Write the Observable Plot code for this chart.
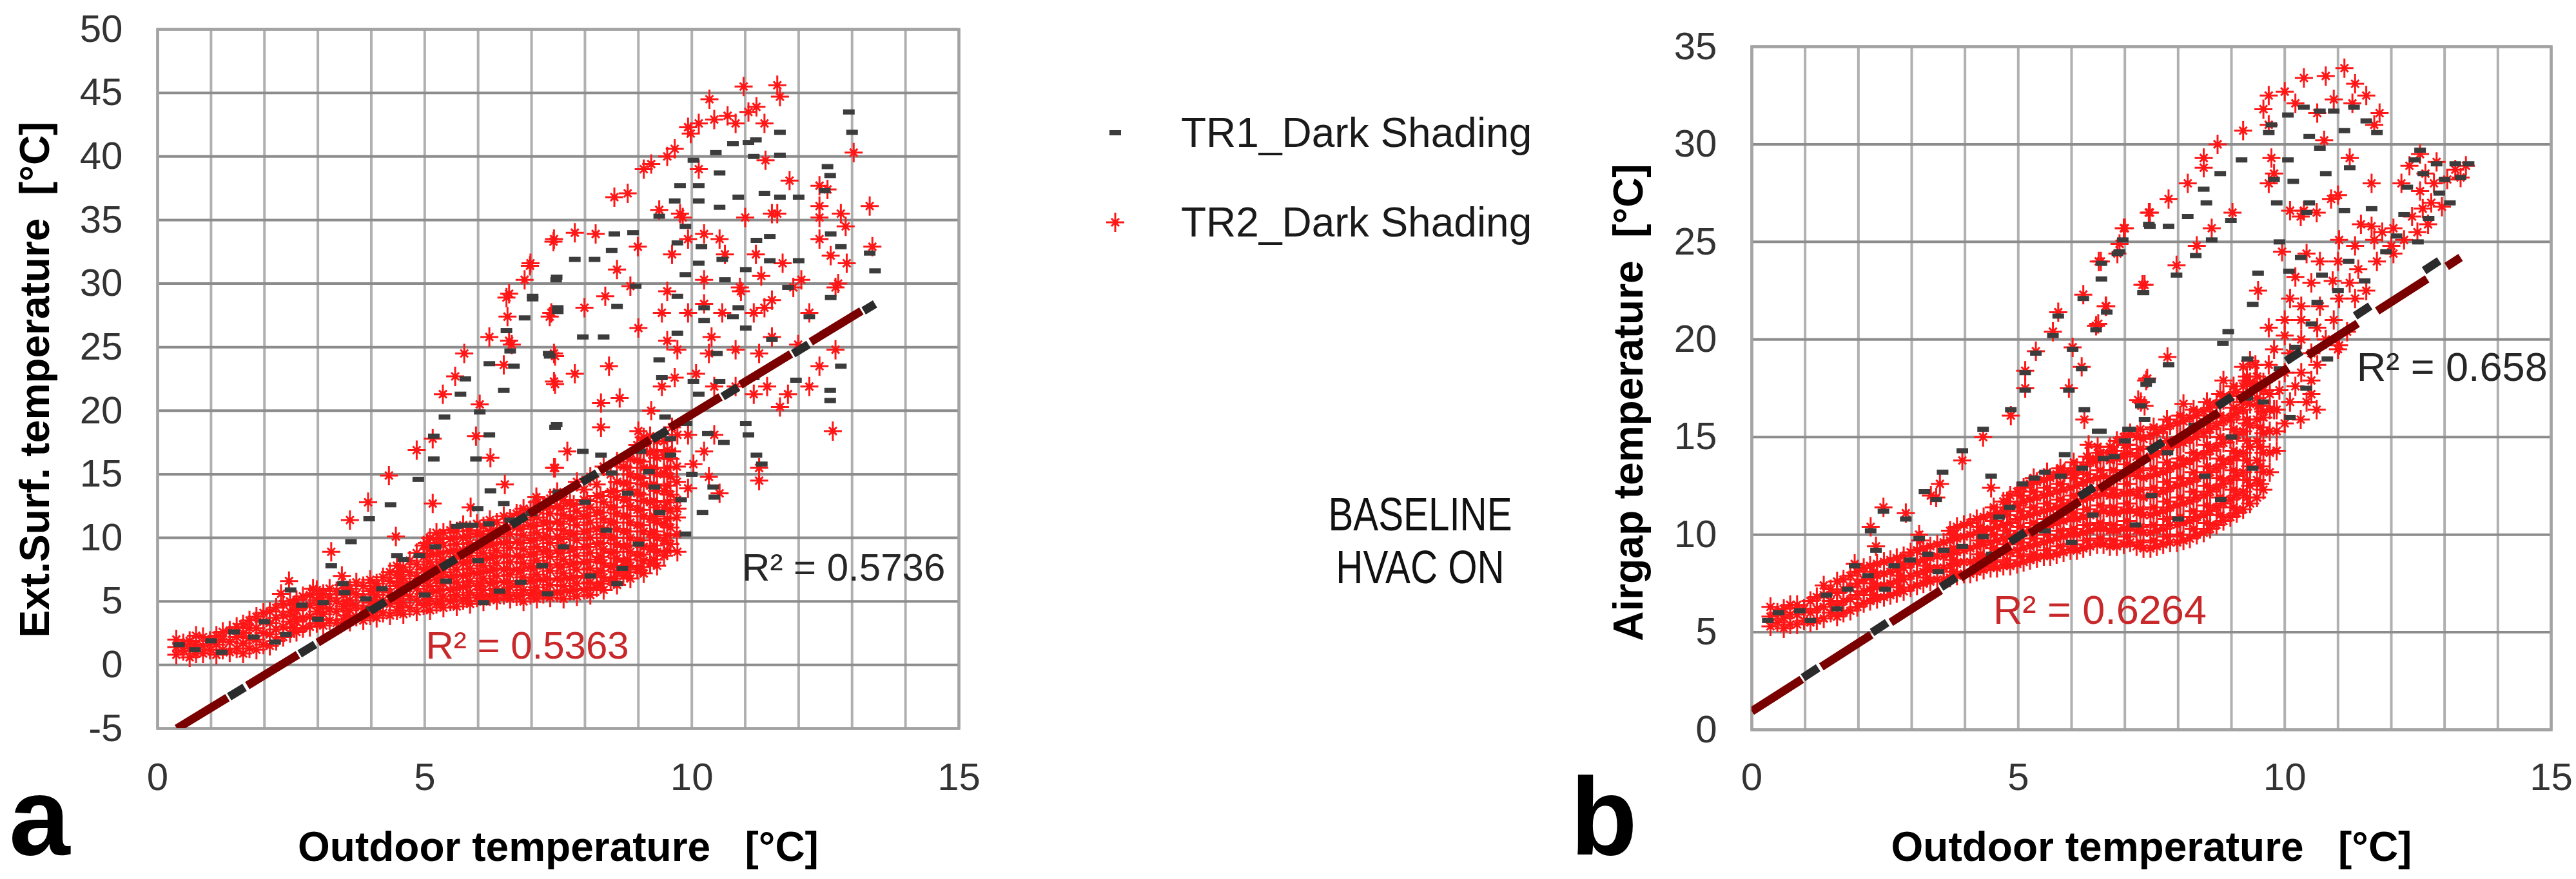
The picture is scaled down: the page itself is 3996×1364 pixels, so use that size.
<!DOCTYPE html>
<html><head><meta charset="utf-8">
<script src="https://cdn.jsdelivr.net/npm/d3@7"></script>
<script src="https://cdn.jsdelivr.net/npm/@observablehq/plot@0.6"></script>
<style>
html,body{margin:0;padding:0;background:#fff;}
#page{position:relative;width:3996px;height:1364px;overflow:hidden;background:#fff;}
#page > svg{position:absolute;max-width:none;}
</style></head><body><div id="page"></div>
<script>
// ---------- ticks / labels ----------
const xTicks = [0, 5, 10, 15];
const xGrid = [0,1,2,3,4,5,6,7,8,9,10,11,12,13,14,15];
const yTicksA = [-5,0,5,10,15,20,25,30,35,40,45,50];
const yTicksB = [0,5,10,15,20,25,30,35];
const seriesNames = ["TR1_Dark Shading", "TR2_Dark Shading"];
const xTitle = "Outdoor temperature   [°C]";
const yTitleA = "Ext.Surf. temperature  [°C]";
const yTitleB = "Airgap temperature  [°C]";
const noteLines = ["BASELINE", "HVAC ON"];
const panelLetters = ["a", "b"];

// ---------- chart a : TR1 (black) ----------
const a_tr1_sparse = [
[7.46,30.3],[7.02,28.8],[6.87,27.3],[7.49,27.8],[6.53,26.3],[6.60,24.7],[6.21,23.7],[6.67,23.5],[7.34,24.3],[5.76,22.5],[6.48,21.6],[5.67,21.3],[6.03,19.9],[5.37,19.5],[7.44,18.7],[5.17,18.0],[6.21,18.1],[5.17,16.2],[5.96,16.2],[4.88,14.6],[4.36,12.6],[3.96,11.5],[6.23,13.7],[6.48,12.7],[3.62,9.7],[4.48,8.6],[3.25,7.8],[3.47,6.4],[2.49,5.9],[5.99,12.3],[5.69,11.0],
[12.94,43.5],[13.0,41.9],[11.65,41.9],[11.06,41.1],[11.2,41.3],[11.65,40.1],[10.45,40.3],[10.77,41.0],[11.16,40.0],[10.03,39.7],[10.52,38.7],[12.54,39.2],[12.59,38.5],[9.78,37.7],[10.13,37.7],[12.49,37.3],[9.68,36.5],[10.13,36.5],[10.52,36.0],[10.87,36.8],[11.36,37.1],[11.65,36.8],[12.0,36.8],[9.39,35.3],[9.88,34.5],[8.55,33.9],[8.9,34.0],[9.73,33.2],[10.18,32.9],[11.21,33.4],[11.46,33.7],[12.6,33.9],[12.79,32.9],[13.33,32.4],[7.81,31.9],[8.18,31.9],[8.5,32.6],[10.57,31.9],[11.01,31.1],[11.46,31.8],[12.0,31.8],[13.43,31.0],[7.47,30.5],[8.95,29.8],[9.88,30.7],[10.13,31.6],[7.02,29.0],[8.6,28.2],[7.49,28.1],[9.73,29.0],[10.23,28.1],[10.62,30.3],[10.87,28.1],[11.8,29.7],[12.6,28.9],[12.2,27.4],[10.77,27.4],[10.23,27.1],[11.01,26.5],[9.73,26.1],[7.96,25.8],[8.35,25.8],[7.32,24.5],[9.39,24.0],[10.47,24.5],[11.5,25.6],[12.79,23.5],[9.44,22.6],[10.03,22.3],[10.52,22.3],[10.13,21.3],[11.95,22.4],[12.59,21.6],[12.59,20.8],[11.16,22.6],[7.47,18.9],[7.96,16.8],[8.3,16.5],[9.04,16.8],[11.01,19.0],[11.06,18.1],[11.21,16.5],[11.31,15.8],[9.88,10.3],[10.42,13.2],[8.7,7.6]
];
const a_tr1_cloud = [
[0.4,1.6],[0.7,1.2],[1.0,1.9],[1.43,2.6],[1.8,2.2],[2.0,3.4],[2.4,2.4],[2.7,4.7],[3.1,4.9],[3.5,5.7],[3.9,5.2],[4.2,6.0],[4.6,8.3],[4.9,8.6],[5.2,9.3],[5.6,10.9],[5.9,11.0],[6.2,11.1],[6.6,11.4],[7.0,11.9],[6.8,6.5],[7.2,7.8],[5.4,6.6],[6.0,8.2],[6.4,5.8],[7.6,9.3],[8.1,7.0],[8.4,10.6],[8.0,12.8],[8.8,13.5],[9.2,15.2],[9.4,12.0],[7.5,13.6],[8.5,15.1],[5.0,5.5],[4.0,4.4],[3.0,3.6],[2.2,1.8],[1.2,1.0],[9.6,17.8],[9.5,19.5],[9.9,19.0],[10.3,18.2],[10.6,17.5],[9.6,16.5],[10.0,15.0],[10.4,14.0],[9.8,13.0],[10.2,12.0],[9.3,14.0],[9.0,9.5],[8.6,6.4],[7.3,5.6],[6.1,4.9]
];

// ---------- chart a : TR2 (red) ----------
const a_tr2_sparse = [
[7.41,33.3],[6.97,31.4],[6.87,30.3],[6.53,28.9],[6.55,27.4],[6.21,25.8],[5.74,24.5],[6.63,25.2],[6.48,23.6],[5.57,22.7],[7.34,27.4],[7.44,24.3],[7.44,22.1],[5.34,21.3],[6.03,20.5],[5.96,18.0],[5.15,17.8],[4.85,16.9],[6.23,16.3],[7.44,15.5],[4.33,14.9],[6.50,14.2],[3.94,12.8],[5.15,12.7],[5.86,12.4],[3.60,11.4],[7.09,13.2],[4.46,10.1],[3.25,8.9],[3.45,7.0],[2.46,6.6],[2.91,6.0],[2.31,5.6],
[10.97,45.5],[11.6,45.6],[11.65,44.7],[10.33,44.5],[10.67,43.2],[11.06,43.5],[10.13,42.6],[11.36,42.6],[9.68,40.6],[9.98,41.8],[9.24,39.4],[11.38,39.7],[13.03,40.3],[8.55,36.8],[8.8,37.1],[11.83,38.1],[12.54,37.4],[13.33,36.1],[9.39,35.8],[9.78,35.5],[11.0,35.2],[11.5,35.5],[7.42,33.5],[7.81,34.0],[8.2,33.9],[8.99,32.9],[12.39,33.5],[12.88,34.5],[13.38,32.9],[6.98,31.6],[8.6,31.1],[10.62,32.3],[6.58,29.2],[7.37,27.7],[7.99,28.1],[8.38,29.0],[8.85,29.8],[9.54,29.4],[10.23,28.4],[10.92,29.4],[11.5,28.7],[12.05,30.3],[12.6,32.2],[12.74,30.0],[11.16,27.7],[12.2,27.7],[9.0,26.5],[6.58,25.5],[7.42,24.5],[8.45,23.5],[7.81,22.9],[7.42,22.3],[9.73,24.8],[10.37,25.8],[11.5,25.8],[12.69,24.8],[12.2,21.9],[8.3,20.6],[8.65,21.0],[9.24,20.0],[11.16,21.3],[11.65,20.3],[7.67,16.8],[8.3,18.7],[9.0,18.4],[7.42,15.5],[9.73,18.1],[12.64,18.4],[11.26,15.5],[11.26,14.5],[9.73,8.9],[10.23,16.8],
[9.93,42.3],[10.42,42.9],[10.82,42.6],[11.21,43.9],[9.54,40.0],[9.1,39.0],[10.13,39.0],[12.39,37.7],[12.39,36.1],[12.79,35.5],
[9.83,35.2],[9.93,33.5],[10.23,33.9],[10.52,33.5],[11.6,35.5],[12.39,35.2],[12.9,31.6],[11.2,32.3],[11.7,31.6],[11.3,30.6],[10.9,29.7],[10.23,30.3],[9.63,32.3],[9.44,27.7],[9.93,27.7],[10.57,27.7],[11.36,28.1],[11.9,29.7],[12.69,29.7],[9.54,25.5],[10.32,24.5],[10.82,24.8],[11.26,24.5],[11.99,25.2],[12.39,23.5],[9.44,21.9],[9.68,22.6],[10.08,22.9],[10.42,21.9],[10.82,21.9],[11.41,21.9],[11.8,21.3],[9.63,18.7],[9.93,18.1],[10.42,18.1],[9.63,16.8],[10.03,15.8],[10.32,14.8],[10.52,13.5],[9.93,13.9],[9.73,12.3]
];
// dense cloud, read column by column: [outdoor T, [surface T values]]
const a_tr2_cloud = [
[0.35,[0.8,1.4,2.0]],[0.6,[0.6,1.3,1.9]],[0.85,[0.9,1.5,2.2]],[1.1,[0.8,1.6,2.3]],[1.35,[1.0,1.8,2.7]],
[1.6,[0.9,1.7,2.5,3.2]],[1.85,[1.2,2.0,2.9,3.8]],[2.1,[1.5,2.4,3.3,4.2]],[2.35,[2.2,3.0,3.9,4.8]],[2.6,[2.6,3.4,4.3,5.1]],
[2.85,[3.0,3.8,4.7,5.5]],[3.1,[3.1,4.0,4.8,5.6]],[3.35,[3.3,4.2,5.0,5.8]],[3.6,[3.4,4.3,5.1,6.0]],[3.85,[3.5,4.4,5.3,6.2]],
[4.1,[3.7,4.6,5.5,6.4]],[4.35,[3.9,4.8,5.7,6.6,7.3]],[4.6,[4.0,4.9,5.8,6.8,7.7]],[4.85,[4.2,5.1,6.0,7.0,7.9,8.8]],
[5.1,[4.3,5.2,6.2,7.1,8.1,9.1,10.0]],[5.35,[4.5,5.4,6.4,7.3,8.3,9.4,10.4]],[5.6,[4.6,5.5,6.5,7.5,8.5,9.5,10.5]],
[5.85,[4.8,5.7,6.6,7.6,8.6,9.6,10.6]],[6.1,[5.0,5.9,6.8,7.8,8.8,9.8,10.9]],[6.35,[5.1,6.0,7.0,8.0,9.0,10.1,11.2]],
[6.6,[5.2,6.1,7.1,8.1,9.2,10.3,11.5]],[6.85,[5.0,5.9,6.9,8.0,9.1,10.2,11.4,12.3]],[7.1,[5.2,6.1,7.1,8.2,9.3,10.4,11.6,12.8]],
[7.35,[5.3,6.3,7.4,8.5,9.6,10.7,11.9,13.1]],[7.6,[5.2,6.2,7.2,8.3,9.4,10.6,11.8,13.0]],[7.85,[5.4,6.4,7.5,8.6,9.8,11.0,12.1,14.4]],
[8.1,[5.5,6.5,7.6,8.8,10.0,11.2,12.4,14.8]],[8.35,[5.9,6.9,8.0,9.1,10.3,11.5,12.8,15.6]],[8.6,[6.3,7.3,8.4,9.5,10.7,11.9,13.2,14.4,16.0]],
[8.85,[6.8,7.8,8.9,10.0,11.2,12.5,13.8,15.0,16.2]],[9.1,[7.2,8.2,9.3,10.5,11.7,12.9,14.2,15.5,16.8,17.9]],
[9.35,[7.8,8.9,10.0,11.2,12.4,13.7,15.0,16.3,17.6]],[9.6,[9.5,10.8,12.1,13.4,14.8,16.2]]
];
// second pass over the same cloud, read between the first columns
const a_tr2_cloud2 = [
[0.48,[1.1,1.7]],[0.72,[0.9,1.6,2.3]],[0.98,[1.2,1.9]],[1.22,[1.2,2.0,2.6]],[1.48,[1.3,2.2,3.0]],[1.72,[1.3,2.1,2.9,3.5]],
[1.98,[1.6,2.5,3.4,4.1]],[2.22,[1.9,2.8,3.7,4.5]],[2.48,[2.5,3.4,4.2,5.0]],[2.72,[2.9,3.7,4.6,5.4]],[2.98,[3.3,4.2,5.1,5.9]],
[3.22,[3.5,4.4,5.3,6.0]],[3.48,[3.6,4.6,5.5,6.3]],[3.72,[3.8,4.7,5.6,6.5]],[3.98,[3.9,4.9,5.8,6.7]],[4.22,[4.1,5.1,6.0,6.9]],
[4.48,[4.3,5.2,6.2,7.1,7.8]],[4.72,[4.5,5.4,6.4,7.3,8.2]],[4.98,[4.7,5.6,6.6,7.5,8.5,9.4]],[5.22,[4.8,5.8,6.7,7.7,8.7,9.6,10.4]],
[5.48,[5.0,5.9,6.9,7.9,8.9,9.9,10.6]],[5.72,[5.1,6.1,7.0,8.0,9.0,10.0,11.0]],[5.98,[5.3,6.2,7.2,8.2,9.2,10.3,11.1]],
[6.22,[5.4,6.4,7.4,8.4,9.4,10.5,11.4]],[6.48,[5.5,6.5,7.5,8.6,9.6,10.7,11.7]],[6.72,[5.4,6.4,7.5,8.6,9.7,10.8,11.9]],
[6.98,[5.5,6.6,7.7,8.7,9.8,11.0,12.2]],[7.22,[5.6,6.7,7.8,8.9,10.0,11.2,12.4]],[7.48,[5.7,6.8,7.9,9.0,10.1,11.3,12.5,13.6]],
[7.72,[5.8,6.8,7.9,9.1,10.3,11.5,12.7]],[7.98,[5.9,7.0,8.1,9.3,10.5,11.7,13.0,13.8]],[8.22,[6.1,7.2,8.3,9.5,10.7,12.0,13.3,14.2]],
[8.48,[6.6,7.7,8.8,10.0,11.2,12.4,13.6,15.0]],[8.72,[7.0,8.1,9.3,10.5,11.7,13.0,14.3,15.6]],[8.98,[7.5,8.6,9.8,11.0,12.2,13.5,14.8,16.1,17.3]],
[9.22,[8.0,9.1,10.3,11.5,12.8,14.1,15.4,16.7,18.0]],[9.48,[8.6,9.8,11.1,12.4,13.7,15.1,16.5,17.6]],[9.72,[10.3,11.6,13.0,14.4,15.6]]
];
// third pass over the densest core
const a_tr2_cloud3 = [
[2.56,[2.9,3.8,4.7]],[3.04,[3.6,4.5,5.3]],[3.54,[3.9,4.8,5.7]],[4.04,[4.2,5.1,6.0]],[4.54,[4.6,5.5,6.5,7.4]],
[5.04,[4.8,5.7,6.7,7.6,8.6,9.6]],[5.29,[5.0,5.9,6.9,7.8,8.8,9.9]],[5.54,[5.1,6.0,7.0,8.0,9.0,10.0]],
[5.79,[5.3,6.2,7.1,8.1,9.1,10.1]],[6.04,[5.5,6.4,7.3,8.3,9.3,10.3]],[6.29,[5.6,6.5,7.5,8.5,9.5,10.6]],
[6.54,[5.7,6.6,7.6,8.6,9.7,10.8]],[6.79,[5.5,6.4,7.4,8.5,9.6,10.7,11.8]],[7.04,[5.7,6.6,7.6,8.7,9.8,10.9,12.0]],
[7.29,[5.8,6.8,7.9,9.0,10.1,11.2,12.4]],[7.54,[5.7,6.7,7.7,8.8,9.9,11.1,12.3]],[7.79,[5.9,6.9,8.0,9.1,10.3,11.5,12.6]],
[8.04,[6.0,7.0,8.1,9.3,10.5,11.7,12.9]],[8.29,[6.4,7.4,8.5,9.6,10.8,12.0,13.3]],[8.54,[6.8,7.8,8.9,10.0,11.2,12.4,13.7]],
[8.79,[7.3,8.3,9.4,10.5,11.7,13.0,14.3,15.5]],[9.04,[7.7,8.7,9.8,11.0,12.2,13.4,14.7,16.0,17.2]],
[9.29,[8.3,9.4,10.5,11.7,12.9,14.2,15.5,16.8]],[9.54,[9.0,10.2,11.5,12.8,14.1,15.5,16.9]]
];

// ---------- chart b : TR1 (black) ----------
const b_tr1_sparse = [
[7.45,25.9],[6.96,25.1],[6.86,24.4],[6.56,23.9],[6.56,23.1],[7.35,22.4],[6.22,22.1],[6.66,21.4],[5.75,21.2],[6.46,20.5],[5.65,20.2],[6.02,19.5],[5.33,19.3],[6.19,18.5],[5.13,18.3],[5.13,17.4],[5.95,17.4],[7.4,17.7],[4.86,16.4],[6.24,16.4],[7.3,16.6],[4.34,15.4],[6.49,15.3],[7.1,15.4],[3.95,14.3],[3.58,13.2],[3.24,12.2],[3.46,11.8],[4.49,13.0],[5.87,14.1],[6.8,14.0],[2.47,11.2],[2.89,10.8],[2.23,10.2],[3.14,9.8],[2.33,9.2],[1.93,8.4],
[10.06,31.5],[9.75,31.0],[9.70,30.6],[10.36,31.9],[10.66,31.7],[10.92,31.7],[11.3,31.9],[11.53,31.2],[11.73,30.6],[11.12,30.7],[10.46,30.4],[10.06,29.2],[9.19,29.2],[10.66,29.8],[10.77,28.5],[11.22,28.8],[9.8,28.2],[10.16,28.1],[9.85,27.0],[8.48,27.7],[8.79,28.5],[8.53,27.0],[8.18,26.3],[7.82,25.8],[7.47,25.8],[8.99,26.1],[8.63,25.1],[8.33,24.3],[7.97,23.3],[7.34,22.4],[6.9,24.5],[11.63,26.7],[11.12,26.6],[10.46,27.0],[10.41,26.5],[12.24,26.4],[12.54,29.7],[12.44,29.2],[12.85,29.0],[13.2,29.0],[13.0,28.2],[9.9,25.0],[9.5,23.4],[9.4,21.8],[10.08,23.5],[10.61,21.9],[8.94,20.4],[8.84,19.8],[7.82,18.7],[7.47,17.9],[7.37,15.9],[7.06,15.4],[6.55,15.3]
];
const b_tr1_cloud = [
[0.3,5.6],[0.5,6.0],[0.9,6.1],[1.1,5.6],[1.4,6.9],[1.6,6.2],[1.8,7.2],[2.18,7.9],[2.5,7.2],[2.67,8.4],[2.97,8.7],[3.3,9.0],[3.5,8.1],[3.6,9.2],[3.95,9.4],[4.34,9.9],[4.5,9.0],[4.64,10.9],[4.84,11.4],[5.08,12.6],[5.3,12.9],[5.5,13.2],[5.5,10.2],[5.8,13.0],[6.0,9.6],[6.2,13.4],[6.4,11.0],[6.6,13.9],[7.0,14.8],[7.2,10.5],[7.5,12.0],[7.8,14.2],[8.0,10.8],[8.3,15.6],[8.5,13.0],[8.8,11.8],[9.0,15.0],[9.3,17.0],[9.4,13.4],
[10.3,24.2],[10.7,23.3],[11.0,22.5],[10.5,20.8],[10.2,19.6],[10.8,19.0],[9.9,18.5],[10.4,17.5],[9.6,16.8],[10.1,16.0],[11.2,24.0],[11.5,23.0],[11.9,24.5],[9.3,19.0],[12.6,28.5],[12.9,27.5],[13.3,28.3],[13.45,29.0],[12.3,27.8],[12.7,26.2],[12.1,25.3],[12.5,25.0],[13.1,27.0]
];

// ---------- chart b : TR2 (red) ----------
const b_tr2_sparse = [
[7.45,26.5],[6.98,25.7],[6.86,24.4],[6.51,24.0],[7.33,22.8],[6.22,22.3],[6.64,21.7],[5.75,21.4],[6.46,20.7],[5.65,20.4],[6.02,19.6],[5.33,19.4],[6.19,18.6],[5.13,18.4],[5.13,17.5],[5.95,17.5],[7.4,17.9],[4.86,16.1],[6.24,15.9],[7.3,16.8],[4.34,15.0],[6.49,14.5],[3.95,13.8],[3.53,12.6],[3.46,11.9],[4.49,12.4],[5.87,13.2],[6.8,14.1],[2.47,11.4],[2.89,11.1],[2.23,10.4],[3.14,10.0],[2.33,9.4],[1.93,8.5],
[7.25,16.9],[6.32,14.6],[7.0,14.6],[6.07,13.2],[6.46,13.9],[5.72,13.1],[3.36,12.0],[3.16,9.7],
[11.12,33.9],[10.36,33.4],[10.77,33.5],[11.32,33.1],[9.70,32.5],[10.0,32.7],[11.53,32.5],[11.78,31.6],[11.68,31.0],[9.6,31.8],[10.2,32.1],[10.61,31.6],[10.92,32.3],[11.27,32.1],[9.22,30.7],[9.70,31.0],[10.74,30.2],[8.74,30.0],[8.48,29.3],[8.48,28.8],[9.75,29.3],[9.8,28.5],[9.7,28.0],[11.22,29.3],[8.18,28.0],[7.82,27.2],[7.47,26.5],[7.0,25.7],[6.9,24.9],[6.55,24.0],[6.65,21.7],[6.5,20.8],[9.02,26.5],[8.63,25.7],[8.35,24.8],[7.97,23.8],[7.37,22.8],[10.36,26.6],[11.0,27.4],[11.63,28.0],[11.63,25.8],[9.95,24.5],[9.5,22.5],[7.8,19.1],[7.42,18.0],[7.37,16.6],[11.0,19.5],
[12.54,29.5],[12.85,29.1],[13.2,28.7],[13.4,28.9],[12.34,28.9],[12.64,28.5],[12.8,28.0],[13.05,28.2],[13.3,28.3],[12.19,28.0],[12.54,27.6],[12.75,27.0],[12.95,26.8],[12.39,26.3],[12.59,26.7],[12.04,25.7],[11.83,25.5],[12.49,25.5],[12.69,25.9],[12.24,25.1],
[10.1,26.6],[10.3,26.3],[10.6,26.5],[10.87,27.2],[11.43,25.9],[11.02,25.1],[11.32,24.8],[11.68,25.1],[12.0,24.8],[10.41,24.4],[10.66,24.0],[11.0,24.0],[11.38,23.6],[11.73,24.0],[12.04,24.4],[10.2,23.2],[10.5,22.9],[10.9,23.0],[11.22,22.9],[11.53,22.5],[10.1,22.1],[10.31,21.7],[10.66,21.7],[11.02,22.1],[11.32,22.1],[10.0,21.0],[10.31,21.0],[10.61,20.6],[10.92,21.0],[11.17,20.4],[9.7,20.6],[10.0,20.2],[10.31,20.0],[10.77,20.0],[11.02,19.7],[9.8,19.5],[10.1,19.3],[10.5,19.3],[9.45,18.7],[9.7,18.7],[10.0,18.3],[10.31,18.3],[10.61,18.7],[9.29,17.9],[9.6,17.8],[9.9,17.4],[10.2,17.6],[10.5,17.9],[9.19,16.8],[9.5,16.6],[9.8,16.4],[10.1,16.8],[10.41,16.8],[8.99,15.9],[9.29,15.7],[9.6,16.0],[10.0,15.7],[10.3,15.9],[10.5,17.2],[10.6,16.4]
];
const b_tr2_cloud = [
[0.35,[5.3,5.8,6.3]],[0.6,[5.2,5.7,6.2]],[0.85,[5.4,5.9,6.4]],[1.1,[5.5,6.0,6.6]],
[1.35,[5.7,6.3,6.9,7.4]],[1.6,[5.8,6.4,7.0,7.6]],[1.85,[6.1,6.7,7.3,7.9]],[2.1,[6.5,7.1,7.7,8.3]],
[2.35,[6.7,7.3,7.9,8.5]],[2.6,[6.9,7.5,8.1,8.7]],[2.85,[7.1,7.7,8.3,8.9]],[3.1,[7.4,8.0,8.6,9.2]],
[3.35,[7.6,8.2,8.8,9.4]],[3.6,[7.7,8.3,8.9,9.6]],[3.85,[7.9,8.5,9.1,9.8,10.4]],[4.1,[8.0,8.6,9.3,10.0,10.6]],
[4.35,[8.2,8.8,9.5,10.2,10.9]],[4.6,[8.3,9.0,9.7,10.4,11.1]],[4.85,[8.4,9.1,9.9,10.6,11.4,12.0]],
[5.1,[8.6,9.3,10.1,10.9,11.7,12.4]],[5.35,[8.8,9.5,10.3,11.1,11.9,12.7]],[5.6,[8.9,9.7,10.5,11.3,12.1,12.9]],
[5.85,[9.1,9.9,10.7,11.5,12.3,13.1]],[6.1,[9.2,10.0,10.8,11.7,12.5,13.4]],[6.35,[9.4,10.2,11.0,11.9,12.8,13.7]],
[6.6,[9.5,10.3,11.2,12.1,13.0,13.9]],[6.85,[9.4,10.2,11.1,12.0,12.9,13.9,14.8]],[7.1,[9.6,10.4,11.3,12.2,13.2,14.2,15.2]],
[7.35,[9.3,10.1,11.0,11.9,12.9,13.9,14.9]],[7.6,[9.4,10.2,11.1,12.1,13.1,14.1,15.2]],[7.85,[9.6,10.5,11.4,12.4,13.4,14.5,15.6]],
[8.1,[9.7,10.6,11.6,12.6,13.6,14.7,15.8,16.7]],[8.35,[10.0,10.9,11.9,12.9,13.9,15.0,16.1]],[8.6,[10.3,11.2,12.2,13.2,14.3,15.4,16.5]],
[8.85,[10.7,11.6,12.6,13.6,14.7,15.8,16.9,17.9]],[9.1,[11.1,12.0,13.0,14.0,15.1,16.2,17.3]],
[9.35,[11.6,12.5,13.5,14.5,15.6,16.7,17.8,18.9]],[9.6,[12.3,13.2,14.2,15.2,16.3,17.4]],[9.85,[14.3,15.3,16.4]]
];
const b_tr2_cloud2 = [
[0.48,[5.5,6.0]],[0.72,[5.4,5.9,6.4]],[0.98,[5.6,6.2]],[1.22,[5.6,6.2,6.8]],[1.48,[6.0,6.6,7.2]],[1.72,[6.0,6.6,7.2,7.7]],
[1.98,[6.3,6.9,7.5,8.1]],[2.22,[6.6,7.2,7.8,8.4]],[2.48,[6.8,7.4,8.0,8.6]],[2.72,[7.0,7.6,8.2,8.8]],[2.98,[7.3,7.9,8.5,9.1]],
[3.22,[7.5,8.1,8.7,9.3]],[3.48,[7.7,8.3,8.9,9.5]],[3.72,[7.8,8.4,9.0,9.7,10.2]],[3.98,[8.0,8.6,9.2,9.9,10.5]],
[4.22,[8.1,8.7,9.4,10.1,10.8]],[4.48,[8.3,8.9,9.6,10.3,11.0]],[4.72,[8.4,9.1,9.8,10.5,11.2,11.7]],[4.98,[8.5,9.2,10.0,10.8,11.5,12.2]],
[5.22,[8.7,9.4,10.2,11.0,11.8,12.6]],[5.48,[8.9,9.6,10.4,11.2,12.0,12.8]],[5.72,[9.0,9.8,10.6,11.4,12.2,13.0]],
[5.98,[9.2,10.0,10.8,11.6,12.4,13.2]],[6.22,[9.3,10.1,10.9,11.8,12.7,13.5]],[6.48,[9.5,10.3,11.1,12.0,12.9,13.8]],
[6.72,[9.4,10.2,11.1,12.0,12.9,13.8,14.5]],[6.98,[9.5,10.3,11.2,12.1,13.0,14.0,15.0]],[7.22,[9.4,10.2,11.1,12.0,13.0,14.0,15.0]],
[7.48,[9.3,10.1,11.0,12.0,13.0,14.0,15.1]],[7.72,[9.5,10.3,11.2,12.2,13.2,14.3,15.4]],[7.98,[9.6,10.5,11.5,12.5,13.5,14.6,15.7]],
[8.22,[9.8,10.7,11.7,12.7,13.8,14.9,16.0]],[8.48,[10.1,11.0,12.0,13.0,14.1,15.2,16.3]],[8.72,[10.5,11.4,12.4,13.4,14.5,15.6,16.7]],
[8.98,[10.9,11.8,12.8,13.8,14.9,16.0,17.1]],[9.22,[11.3,12.2,13.2,14.2,15.3,16.4,17.6,18.6]],[9.48,[11.9,12.8,13.8,14.8,15.9,17.0,18.1]],
[9.72,[13.2,14.2,15.3,16.4,17.2]]
];
const b_tr2_cloud3 = [
[2.29,[6.9,7.5,8.1]],[2.79,[7.3,7.9,8.5]],[3.29,[7.8,8.4,9.0]],[3.79,[8.1,8.7,9.3,10.0]],[4.29,[8.4,9.0,9.7,10.4]],
[4.54,[8.6,9.3,10.0,10.7,11.4]],[4.79,[8.7,9.5,10.2,11.0,11.7]],[5.04,[8.9,9.6,10.4,11.2,12.0]],
[5.29,[9.0,9.8,10.6,11.4,12.2,12.9]],[5.54,[9.2,10.0,10.8,11.6,12.4,13.2]],[5.79,[9.4,10.2,11.0,11.8,12.6,13.4]],
[6.04,[9.5,10.3,11.1,12.0,12.9,13.7]],[6.29,[9.7,10.5,11.3,12.2,13.1,14.0]],[6.54,[9.8,10.6,11.5,12.4,13.3,14.2]],
[6.79,[9.7,10.5,11.4,12.3,13.3,14.3]],[7.04,[9.9,10.7,11.6,12.6,13.6,14.6]],[7.29,[9.6,10.4,11.3,12.3,13.3,14.4,15.4]],
[7.54,[9.7,10.5,11.4,12.4,13.4,14.5,15.5]],[7.79,[9.9,10.8,11.7,12.7,13.7,14.8,15.9]],[8.04,[10.0,10.9,11.9,12.9,13.9,15.0,16.1]],
[8.29,[10.3,11.2,12.2,13.2,14.2,15.3,16.4]],[8.54,[10.6,11.5,12.5,13.5,14.6,15.7,16.8]],[8.79,[11.0,11.9,12.9,13.9,15.0,16.1,17.2]],
[9.04,[11.4,12.3,13.3,14.3,15.4,16.5,17.6]],[9.29,[11.9,12.8,13.8,14.8,15.9,17.0,18.1]],[9.54,[12.6,13.5,14.5,15.5,16.6,17.7]]
];

// ---------- trend lines (linear fits, end points) ----------
const trendA_x = [0.36, 13.43];
const trendA_tr1 = [-5.0, 28.4];
const trendA_tr2 = [-5.0, 28.5];
const trendB_x = [0, 13.3];
const trendB_tr1 = [0.95, 24.75];
const trendB_tr2 = [0.95, 24.2];

// ---------- R² labels ----------
const r2A_text = ["R² = 0.5736", "R² = 0.5363"];
const r2A_x = [10.94, 5.02];
const r2A_y = [6.62, 0.48];
const r2B_text = ["R² = 0.658", "R² = 0.6264"];
const r2B_x = [11.35, 4.53];
const r2B_y = [17.87, 5.42];

// ---------- helpers ----------
const FONT = "'Liberation Sans', Arial, Helvetica, sans-serif";
const RED = "#ff1616", BLACK = "#3c3c3c", LINE_RED = "#7a0000", LINE_BLACK = "#2b2b2b", R2_RED = "#c8282a";
const pairs = p => p.map(([x, y]) => ({x, y}));
const cols = c => c.flatMap(([x, ys]) => ys.map(y => ({x, y})));
const starSym = {draw(ctx) {
  ctx.moveTo(-14, 0); ctx.lineTo(14, 0); ctx.moveTo(0, -15); ctx.lineTo(0, 15);
  ctx.moveTo(-6, -6); ctx.lineTo(6, 6); ctx.moveTo(-6, 6); ctx.lineTo(6, -6);
}};
const barSym = {draw(ctx) { ctx.rect(-9, -4, 18, 8); }};

function chart(o) {
  const trend = o.tx.map((x, i) => ({x, t1: o.t1[i], t2: o.t2[i]}));
  const r2 = o.r2t.map((t, i) => ({t, x: o.r2x[i], y: o.r2y[i], c: i === 0 ? "#262626" : R2_RED}));
  const svg = Plot.plot({
    width: o.width, height: 1364,
    marginLeft: o.mL, marginRight: o.mR, marginTop: o.mT, marginBottom: 1364 - o.bottom,
    x: {domain: [0, 15]}, y: {domain: o.yDomain},
    style: {fontFamily: FONT, background: "transparent"},
    marks: [
      Plot.gridX(xGrid, {stroke: "#b0b0b0", strokeOpacity: 1, strokeWidth: 4}),
      Plot.gridY(o.yTicks, {stroke: "#8c8c8c", strokeOpacity: 1, strokeWidth: 4}),
      Plot.frame({stroke: "#a3a3a3", strokeWidth: 4.5}),
      Plot.axisX(xTicks, {tickSize: 0, tickPadding: o.xPad, fontSize: 60, color: "#333", tickFormat: d => String(d), label: null}),
      Plot.axisY(o.yTicks, {tickSize: 0, tickPadding: 54, fontSize: 60, color: "#333", tickFormat: d => String(d), label: null}),
      Plot.dot(o.red, {x: "x", y: "y", symbol: starSym, stroke: RED, strokeWidth: 3, fill: "none"}),
      Plot.dot(o.black, {x: "x", y: "y", symbol: barSym, fill: BLACK, stroke: "none"}),
      Plot.line(trend, {x: "x", y: "t1", stroke: LINE_BLACK, strokeWidth: 13, strokeDasharray: "28,100", strokeDashoffset: 33, strokeLinecap: "butt", clip: true}),
      Plot.line(trend, {x: "x", y: "t2", stroke: LINE_RED, strokeWidth: 13, strokeDasharray: "92,36", strokeLinecap: "butt", clip: true}),
      Plot.text(r2, {x: "x", y: "y", text: "t", fill: "c", fontSize: o.r2Size, textAnchor: "start", lineAnchor: "bottom"}),
      Plot.text([xTitle], {text: d => d, frameAnchor: "bottom", dy: o.xTitleDy, textAnchor: "middle", lineAnchor: "bottom", fontSize: 64, fontWeight: "bold", fill: "#000"}),
      Plot.text([o.yTitle], {text: d => d, frameAnchor: "left", rotate: -90, dx: o.yTitleDx, dy: o.yTitleDy, textAnchor: "middle", lineAnchor: "bottom", fontSize: 64, fontWeight: "bold", fill: "#000"})
    ]
  });
  svg.style.left = o.left + "px";
  svg.style.top = "0px";
  svg.style.maxWidth = "none";
  return svg;
}

const page = document.getElementById("page");
page.appendChild(chart({
  left: 0, width: 1560, mL: 244, mR: 1560 - 1487, mT: 45, bottom: 1130,
  yDomain: [-5, 50], yTicks: yTicksA, xPad: 53,
  red: [...cols(a_tr2_cloud), ...cols(a_tr2_cloud2), ...cols(a_tr2_cloud3), ...pairs(a_tr2_sparse)],
  black: [...pairs(a_tr1_cloud), ...pairs(a_tr1_sparse)],
  tx: trendA_x, t1: trendA_tr1, t2: trendA_tr2,
  r2t: r2A_text, r2x: r2A_x, r2y: r2A_y, r2Size: 60,
  yTitle: yTitleA, yTitleDx: -169, yTitleDy: 1, xTitleDy: 205
}));
page.appendChild(chart({
  left: 2450, width: 1546, mL: 2717 - 2450, mR: 1546 - (3957 - 2450), mT: 72, bottom: 1132,
  yDomain: [0, 35], yTicks: yTicksB, xPad: 51,
  red: [...cols(b_tr2_cloud), ...cols(b_tr2_cloud2), ...cols(b_tr2_cloud3), ...pairs(b_tr2_sparse)],
  black: [...pairs(b_tr1_cloud), ...pairs(b_tr1_sparse)],
  tx: trendB_x, t1: trendB_tr1, t2: trendB_tr2,
  r2t: r2B_text, r2x: r2B_x, r2y: r2B_y, r2Size: 63,
  yTitle: yTitleB, yTitleDx: -170, yTitleDy: 22, xTitleDy: 203
}));

// ---------- overlay: legend, note, panel letters ----------
const NS = "http://www.w3.org/2000/svg";
const ov = document.createElementNS(NS, "svg");
ov.setAttribute("width", 3996); ov.setAttribute("height", 1364);
ov.style.left = "0px"; ov.style.top = "0px"; ov.style.zIndex = 5; ov.style.pointerEvents = "none";
ov.setAttribute("font-family", FONT);
const legendY = [206, 345];
ov.innerHTML =
  `<rect x="1721" y="${legendY[0]-4}" width="18" height="8" fill="${BLACK}"/>` +
  `<path transform="translate(1730,${legendY[1]})" d="M-14,0H14M0,-15V15M-6,-6L6,6M-6,6L6,-6" stroke="${RED}" stroke-width="3" fill="none"/>` +
  seriesNames.map((s, i) => `<text x="1832" y="${legendY[i] + 22}" font-size="64" fill="#1a1a1a">${s}</text>`).join("") +
  noteLines.map((s, i) => `<text transform="translate(2203,${823 + i * 82}) scale(0.81,1)" text-anchor="middle" font-size="72" fill="#111">${s}</text>`).join("") +
  `<text x="14" y="1326" font-size="170" font-weight="bold" fill="#000">${panelLetters[0]}</text>` +
  `<text x="2436" y="1326" font-size="170" font-weight="bold" fill="#000">${panelLetters[1]}</text>`;
page.appendChild(ov);
</script></body></html>
